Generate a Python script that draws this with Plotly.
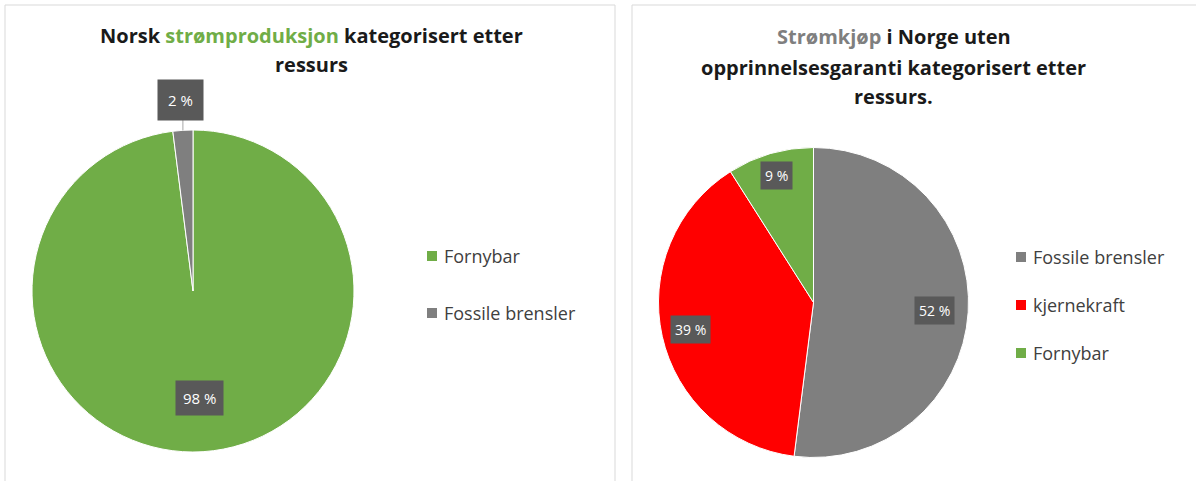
import math

import plotly.graph_objects as go

W, H = 1196, 481

# Norsk strømproduksjon
prod_labels = ["Fornybar", "Fossile brensler"]
prod_values = [98, 2]
prod_colors = ["#70AD47", "#7F7F7F"]

# Strømkjøp uten opprinnelsesgaranti
buy_labels = ["Fossile brensler", "kjernekraft", "Fornybar"]
buy_values = [52, 39, 9]
buy_colors = ["#7F7F7F", "#FF0000", "#70AD47"]

FONT = "Open Sans"
TEXT_COLOR = "#1a1a1a"
LEGEND_COLOR = "#404040"
LABEL_BG = "#595959"


def px(x):
    return x / W


def py(y):
    return 1 - y / H


panels = [
    {
        "labels": prod_labels, "values": prod_values, "colors": prod_colors,
        "cx": 193, "cy": 291, "r": 161,
        "label_r": [0.667, 1.19], "label_size": 15, "label_pad": [7, 10],
        "legend_x": 427, "legend_y": [256, 313],
        "title": [
            "<b>Norsk <span style='color:#70AD47'>strømproduksjon</span> kategorisert etter</b>",
            "<b>ressurs</b>",
        ],
        "title_x": 311, "title_y": [35, 65],
    },
    {
        "labels": buy_labels, "values": buy_values, "colors": buy_colors,
        "cx": 813.5, "cy": 302.5, "r": 155,
        "label_r": [0.78, 0.81, 0.85], "label_size": 14, "label_pad": [4, 4, 4],
        "legend_x": 1016, "legend_y": [257, 305, 353],
        "title": [
            "<b><span style='color:#7F7F7F'>Strømkjøp</span> i Norge uten</b>",
            "<b>opprinnelsesgaranti kategorisert etter</b>",
            "<b>ressurs.</b>",
        ],
        "title_x": 894, "title_y": [37, 67, 97],
    },
]

fig = go.Figure()
annotations = []
shapes = [
    # panel frames
    dict(type="rect", xref="paper", yref="paper", x0=px(5), x1=px(615), y0=py(490), y1=py(5),
         line=dict(color="#D9D9D9", width=1), fillcolor="rgba(0,0,0,0)", layer="below"),
    dict(type="rect", xref="paper", yref="paper", x0=px(632), x1=px(1205), y0=py(490), y1=py(5),
         line=dict(color="#D9D9D9", width=1), fillcolor="rgba(0,0,0,0)", layer="below"),
]

for p in panels:
    cx, cy, r = p["cx"], p["cy"], p["r"]
    fig.add_trace(go.Pie(
        labels=p["labels"],
        values=p["values"],
        marker=dict(colors=p["colors"], line=dict(color="white", width=1)),
        sort=False,
        direction="clockwise",
        rotation=0,
        textinfo="none",
        hoverinfo="label+percent",
        showlegend=False,
        domain=dict(x=[px(cx - r), px(cx + r)], y=[py(cy + r), py(cy - r)]),
    ))

    # data labels in dark boxes, placed at each slice's mid angle
    total = sum(p["values"])
    cum = 0
    for v, frac, pad in zip(p["values"], p["label_r"], p["label_pad"]):
        mid = (cum + v / 2) / total * 2 * math.pi
        cum += v
        lx = cx + math.sin(mid) * r * frac
        ly = cy - math.cos(mid) * r * frac
        annotations.append(dict(
            x=px(lx), y=py(ly), xref="paper", yref="paper", showarrow=False,
            xanchor="center", yanchor="middle",
            text=f"{v} %", bgcolor=LABEL_BG, borderpad=pad,
            font=dict(family=FONT, size=p["label_size"], color="white"),
        ))
        if frac > 1:
            # leader line for outside label
            ex = cx + math.sin(mid) * r
            ey = cy - math.cos(mid) * r
            shapes.append(dict(
                type="line", xref="paper", yref="paper",
                x0=px(ex), y0=py(ey), x1=px(ex), y1=py(ly + 20),
                line=dict(color="#A6A6A6", width=1),
            ))

    # legend
    for lab, col, yy in zip(p["labels"], p["colors"], p["legend_y"]):
        lx = p["legend_x"]
        shapes.append(dict(
            type="rect", xref="paper", yref="paper",
            x0=px(lx), x1=px(lx + 10), y0=py(yy + 5), y1=py(yy - 5),
            fillcolor=col, line=dict(width=0),
        ))
        annotations.append(dict(
            x=px(lx + 15), y=py(yy), xref="paper", yref="paper", showarrow=False,
            xanchor="left", yanchor="middle", text=lab,
            font=dict(family=FONT, size=18, color=LEGEND_COLOR),
        ))

    # title lines
    for line, yy in zip(p["title"], p["title_y"]):
        annotations.append(dict(
            x=px(p["title_x"]), y=py(yy), xref="paper", yref="paper", showarrow=False,
            xanchor="center", yanchor="middle", text=line,
            font=dict(family=FONT, size=20, color=TEXT_COLOR),
        ))

fig.update_layout(
    width=W,
    height=H,
    margin=dict(l=0, r=0, t=0, b=0),
    paper_bgcolor="white",
    plot_bgcolor="white",
    annotations=annotations,
    shapes=shapes,
)

# drop the browser's default body margin so the figure sits at the page corner
fig.write_html(
    "out.html",
    config={"displayModeBar": False},
    post_script="document.body.style.margin = '0';",
)
